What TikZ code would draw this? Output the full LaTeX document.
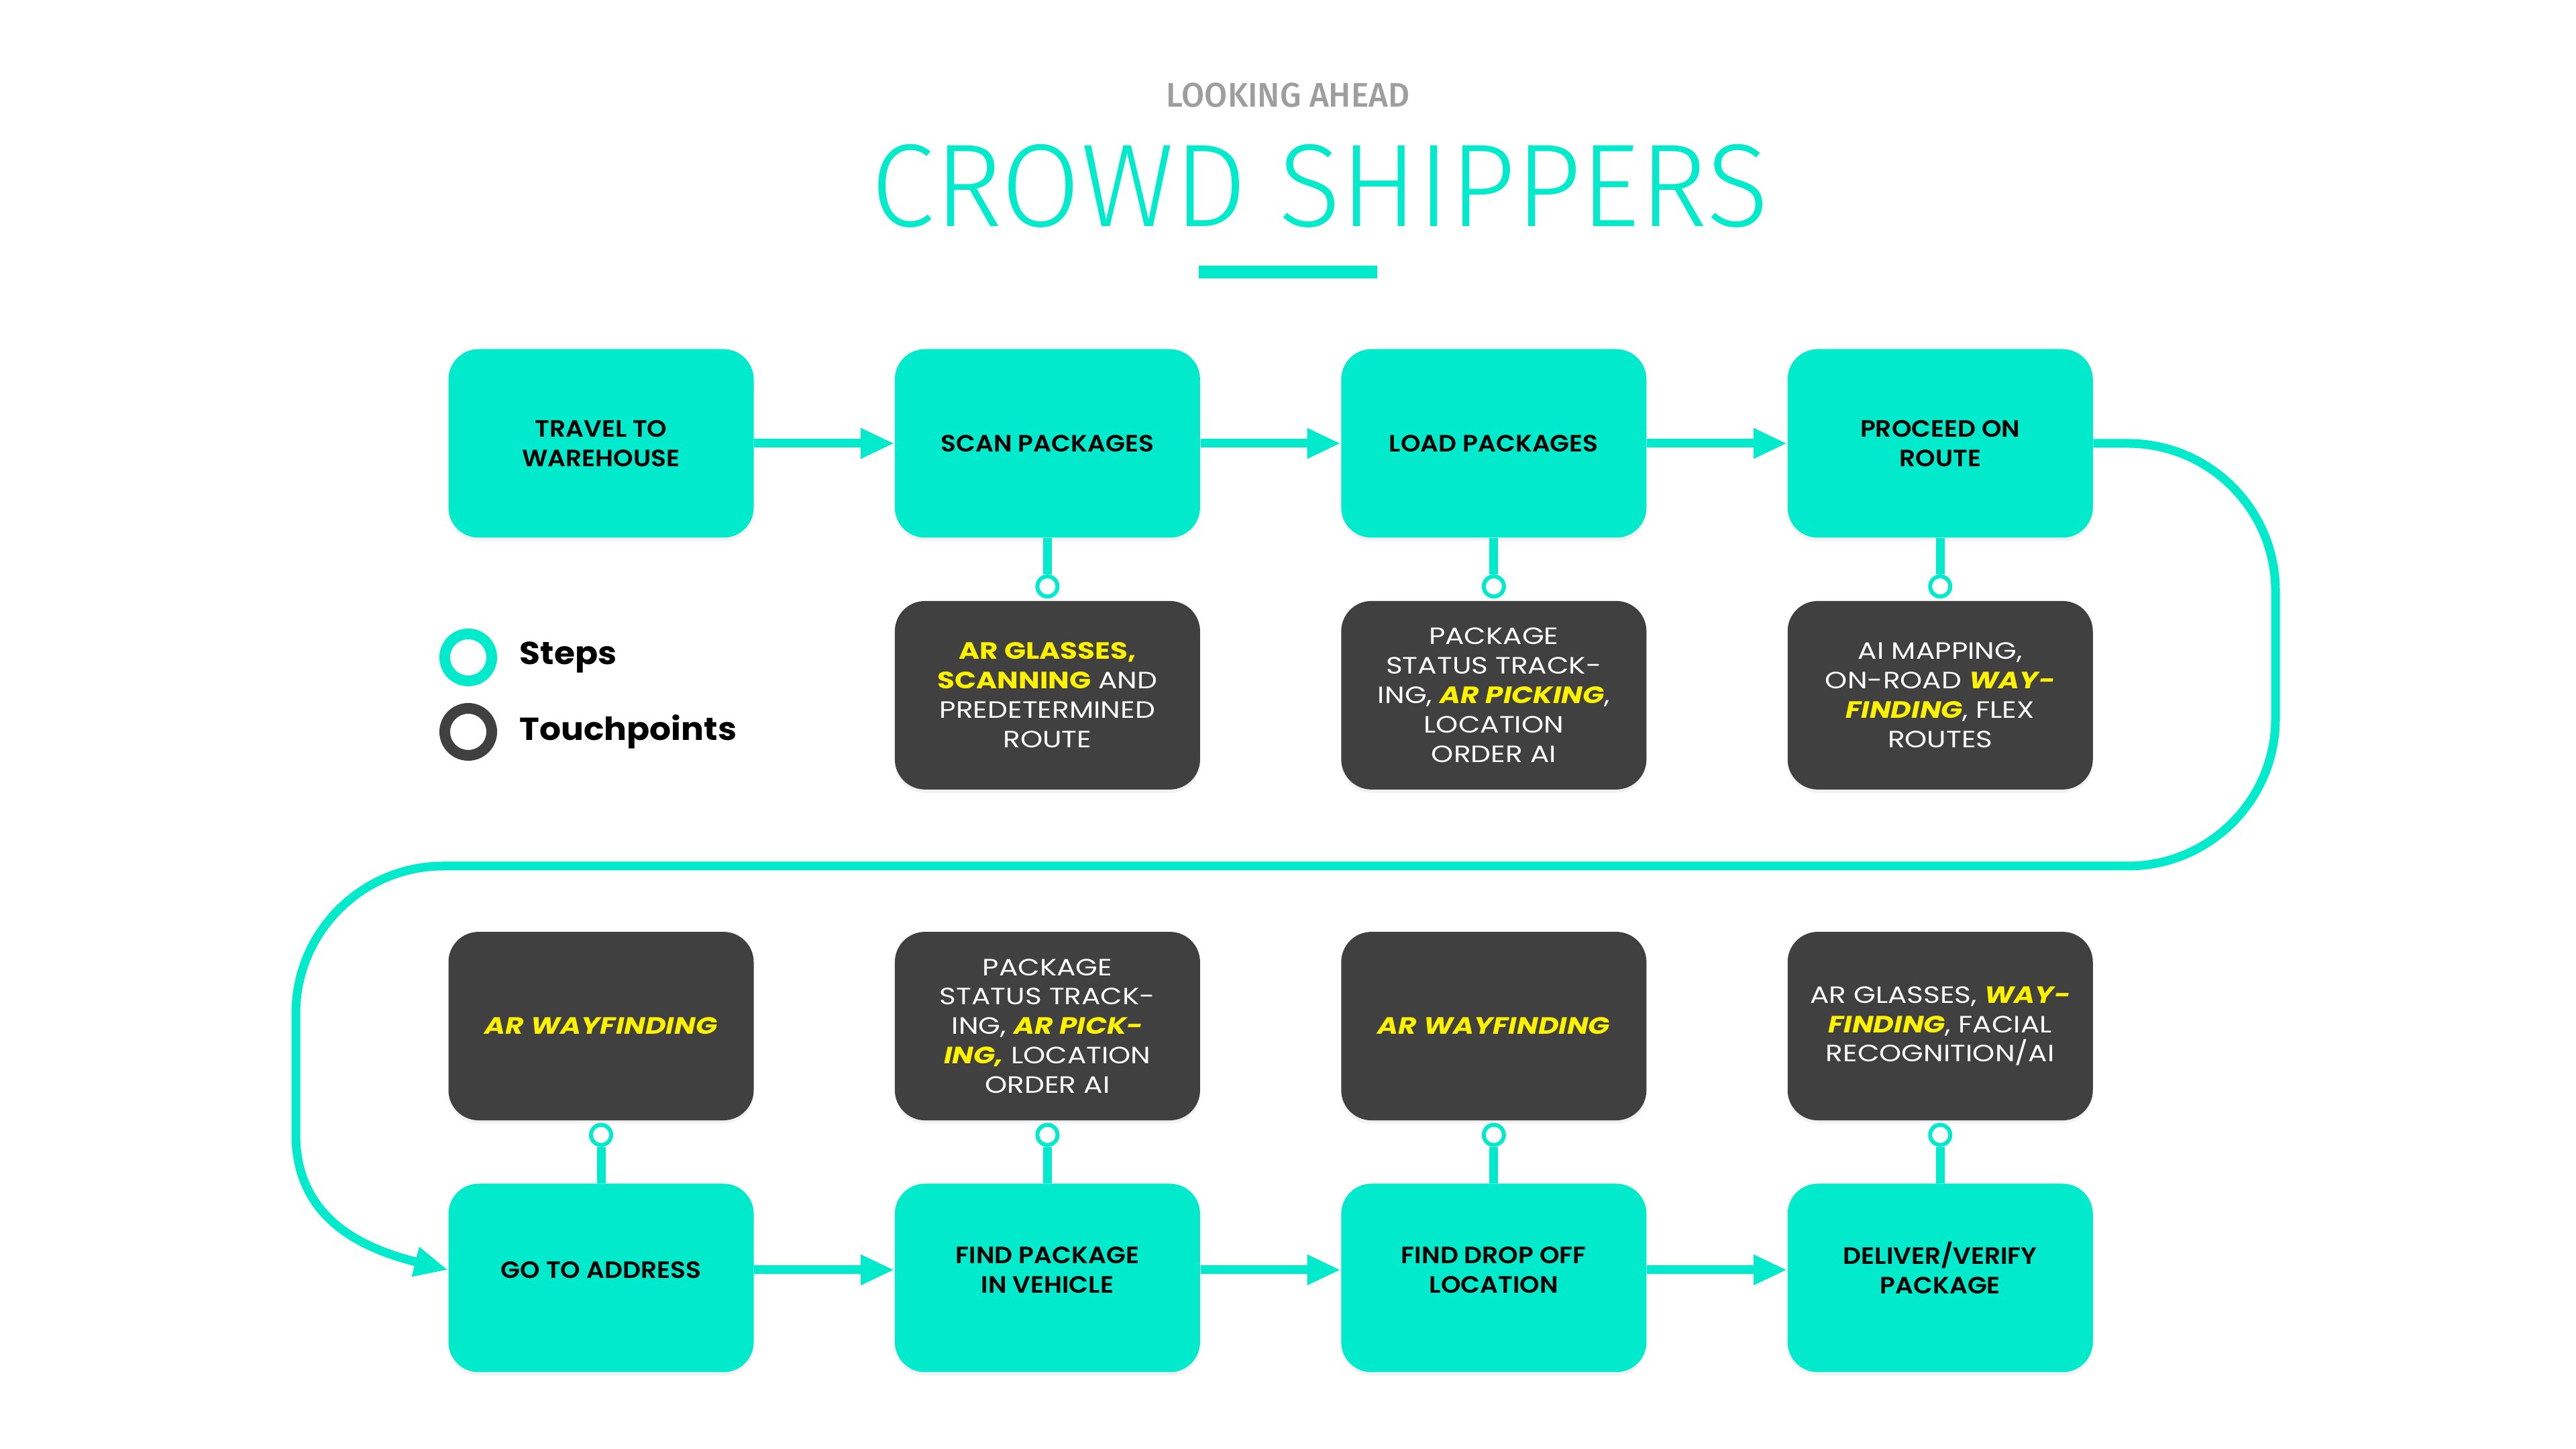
\documentclass[tikz,border=0pt]{standalone}
\usepackage{fontspec}
\usetikzlibrary{positioning,arrows.meta,calc,shadows}

\newfontfamily\boxfont{Poppins}[UprightFont=* SemiBold, BoldFont=* Bold, ItalicFont=* SemiBold Italic, BoldItalicFont=* Bold Italic, FakeStretch=1.07]
\newfontfamily\keyfont{Poppins}[UprightFont=* Bold, FakeStretch=1.06]
\newfontfamily\notefont{Poppins}[BoldFont=* Bold, ItalicFont=* Italic, BoldItalicFont=* Bold Italic, FakeStretch=1.2]
\newfontfamily\headfont{Fira Sans Light}[FakeStretch=0.975]
\newfontfamily\kickerfont{Fira Sans Medium}[FakeStretch=0.97]

\definecolor{crowdteal}{HTML}{00EACB}
\definecolor{darkbox}{HTML}{404040}
\definecolor{hiyellow}{HTML}{FFF200}
\definecolor{kickergray}{HTML}{9E9E9E}

\newcommand{\hilite}[1]{\textcolor{hiyellow}{\bfseries #1}}
\newcommand{\hiliteit}[1]{\textcolor{hiyellow}{\bfseries\itshape #1}}

\begin{document}
\begin{tikzpicture} [scale=1, transform shape]
    \tikzstyle{stepbox}=[rectangle, rounded corners=0.45cm, fill=crowdteal, minimum width=4.55cm, minimum height=2.81cm, align=center, text=black, font=\boxfont\fontsize{10}{12.5}\selectfont, drop shadow={shadow xshift=0cm, shadow yshift=-0.05cm, opacity=0.1}]
    \tikzstyle{lowstep}=[stepbox, text depth=0.24cm]
    \tikzstyle{touchbox}=[stepbox, fill=darkbox, text=white, font=\notefont\fontsize{10}{12.5}\selectfont]
    \tikzstyle{tpdot}=[circle, draw=crowdteal, fill=white, line width=0.06cm, minimum size=0.3cm, inner sep=0pt]
    \tikzstyle{flowline}=[draw=crowdteal, line width=0.13cm, -{Triangle[length=0.5cm, width=0.42cm]}]
    \tikzstyle{stemline}=[draw=crowdteal, line width=0.13cm]
    \tikzstyle{keyring}=[circle, fill=white, line width=0.16cm, minimum size=0.7cm, inner sep=0pt]
    \tikzstyle{keytext}=[anchor=west, inner sep=0pt, font=\keyfont\fontsize{13.5}{16}\selectfont]
    \useasboundingbox (0,0) rectangle (38.4,21.6);
    \fill[white] (0,0) rectangle (38.4,21.6);

    % heading
    \node[font=\kickerfont\fontsize{14.5}{17}\selectfont, text=kickergray] (kicker) at (19.2,20.18) {LOOKING AHEAD};
    \node[font=\headfont\fontsize{50}{60}\selectfont, text=crowdteal] (title) at (19.68,18.83) {CROWD SHIPPERS};
    \node[fill=crowdteal, minimum width=2.66cm, minimum height=0.19cm, inner sep=0pt] (bar) at (19.2,17.54) {};

    % legend
    \node[keyring, draw=crowdteal] (stepsKey) at (6.98,11.80) {};
    \node[keytext, right=0.33cm of stepsKey] (stepsText) {Steps};
    \node[keyring, draw=darkbox] (touchKey) at (6.98,10.69) {};
    \node[keytext, right=0.33cm of touchKey] (touchText) {Touchpoints};

    % first row
    \node[stepbox] (travel) at (8.96,14.99) {TRAVEL TO\\WAREHOUSE};
    \node[stepbox, right=2.09cm of travel] (scan) {SCAN PACKAGES};
    \node[stepbox, right=2.09cm of scan] (load) {LOAD PACKAGES};
    \node[stepbox, right=2.09cm of load] (route) {PROCEED ON\\ROUTE};

    \node[touchbox, below=0.93cm of scan] (scanTP) {\hilite{AR GLASSES,}\\\hilite{SCANNING} AND\\PREDETERMINED\\ROUTE};
    \node[touchbox, below=0.93cm of load] (loadTP) {PACKAGE\\STATUS TRACK-\\ING, \hiliteit{AR PICKING},\\LOCATION\\ORDER AI};
    \node[touchbox, below=0.93cm of route] (routeTP) {AI MAPPING,\\ON-ROAD \hiliteit{WAY-}\\\hiliteit{FINDING}, FLEX\\ROUTES};

    \node[tpdot, above=0.03cm of scanTP] (scanDot) {};
    \node[tpdot, above=0.03cm of loadTP] (loadDot) {};
    \node[tpdot, above=0.03cm of routeTP] (routeDot) {};

    % second row
    \node[lowstep] (address) at (8.96,2.55) {GO TO ADDRESS};
    \node[lowstep, right=2.09cm of address] (findpkg) {FIND PACKAGE\\IN VEHICLE};
    \node[lowstep, right=2.09cm of findpkg] (dropoff) {FIND DROP OFF\\LOCATION};
    \node[lowstep, text depth=0.3cm, right=2.09cm of dropoff] (deliver) {DELIVER/VERIFY\\PACKAGE};

    \node[touchbox, above=0.93cm of address] (addressTP) {\hiliteit{AR WAYFINDING}};
    \node[touchbox, above=0.93cm of findpkg] (findpkgTP) {PACKAGE\\STATUS TRACK-\\ING, \hiliteit{AR PICK-}\\\hiliteit{ING,} LOCATION\\ORDER AI};
    \node[touchbox, above=0.93cm of dropoff] (dropoffTP) {\hiliteit{AR WAYFINDING}};
    \node[touchbox, above=0.93cm of deliver] (deliverTP) {AR GLASSES, \hiliteit{WAY-}\\\hiliteit{FINDING}, FACIAL\\RECOGNITION/AI};

    \node[tpdot, below=0.03cm of addressTP] (addressDot) {};
    \node[tpdot, below=0.03cm of findpkgTP] (findpkgDot) {};
    \node[tpdot, below=0.03cm of dropoffTP] (dropoffDot) {};
    \node[tpdot, below=0.03cm of deliverTP] (deliverDot) {};

    % stems
    \draw[stemline] (scan.south) -- (scanDot.north);
    \draw[stemline] (load.south) -- (loadDot.north);
    \draw[stemline] (route.south) -- (routeDot.north);
    \draw[stemline] (addressDot.south) -- (address.north);
    \draw[stemline] (findpkgDot.south) -- (findpkg.north);
    \draw[stemline] (dropoffDot.south) -- (dropoff.north);
    \draw[stemline] (deliverDot.south) -- (deliver.north);

    % flow
    \draw[flowline] (travel) -- (scan);
    \draw[flowline] (scan) -- (load);
    \draw[flowline] (load) -- (route);
    \draw[flowline] ($(address.east)+(0,0.12)$) -- ($(findpkg.west)+(0,0.12)$);
    \draw[flowline] ($(findpkg.east)+(0,0.12)$) -- ($(dropoff.west)+(0,0.12)$);
    \draw[flowline] ($(dropoff.east)+(0,0.12)$) -- ($(deliver.west)+(0,0.12)$);

    % loop from the first row to the second
    \coordinate (bendR) at (33.92,8.69);
    \coordinate (bendL) at (4.41,8.69);
    \draw[flowline] (route.east) -- ($(route.east -| bendR)+(-2.2,0)$)
        arc[start angle=90, end angle=0, radius=2.2cm] -- ($(bendR)+(0,2.2)$)
        arc[start angle=0, end angle=-90, radius=2.2cm] -- ($(bendL)+(2.2,0)$)
        arc[start angle=90, end angle=180, radius=2.2cm] -- ($(bendL)+(0,-4.0)$)
        .. controls +(0,-1.3) and +(-1.2,0.3) .. ($(address.west)+(0,0.12)$);
\end{tikzpicture}
\end{document}
